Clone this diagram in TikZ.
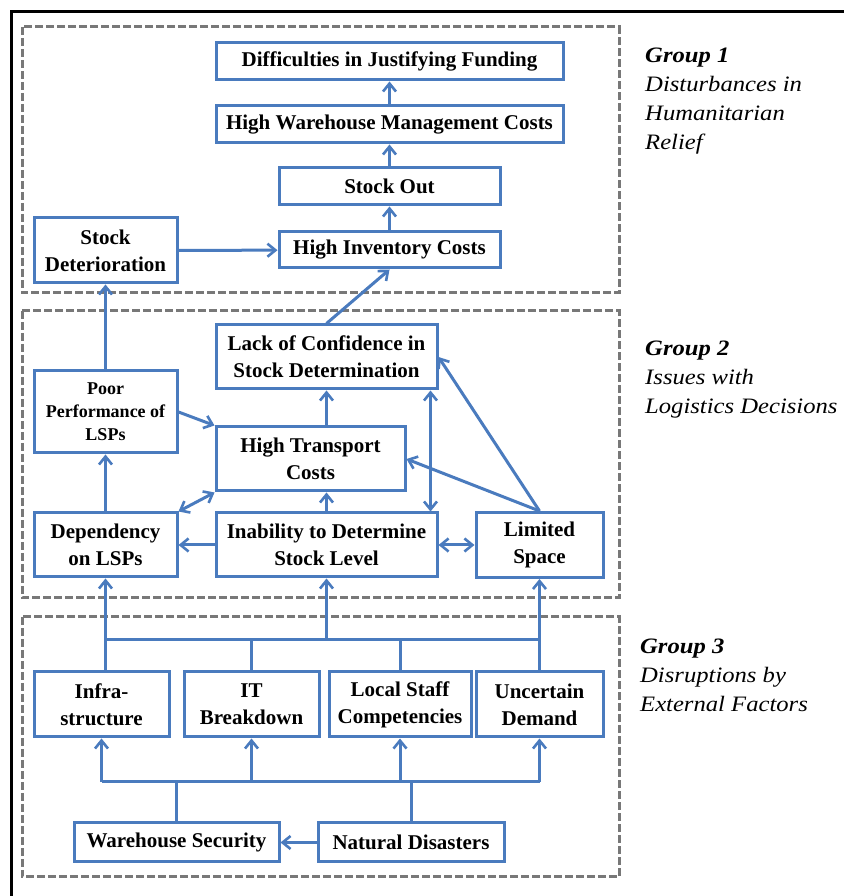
\documentclass[tikz,border=0pt]{standalone}
\usepackage{fontspec}
\setmainfont{Liberation Serif}
\newfontfamily\sidefont[FakeStretch=1.12]{Liberation Serif}
\usepackage{tikz}
\usetikzlibrary{calc,arrows.meta}
\definecolor{boxblue}{RGB}{74,123,190}
\definecolor{framegray}{RGB}{120,120,120}

\begin{document}
\begin{tikzpicture}[x=1pt,y=1pt,
  box/.style={draw=boxblue, line width=3pt, align=center, inner sep=2pt,
    font=\fontsize{21}{27}\selectfont\bfseries},
  link/.style={draw=boxblue, line width=3pt},
  tip/.style={-{Straight Barb[length=8pt,width=13pt,line width=2.6pt]}},
  both/.style={{Straight Barb[length=8pt,width=13pt,line width=2.6pt]}-{Straight Barb[length=8pt,width=13pt,line width=2.6pt]}},
  grp/.style={draw=framegray, line width=3pt, dash pattern=on 8pt off 3pt},
  grouptext/.style={anchor=base west, align=left, inner sep=0pt,
    font=\sidefont\fontsize{22}{29}\selectfont\itshape}]
\useasboundingbox (0,0) rectangle (844,896);
\draw[line width=3pt] (11,0) -- (11,884) -- (844,884);

% groups
\draw[grp] (22,869) rectangle (619,603);
\draw[grp] (22,585) rectangle (619,298);
\draw[grp] (22,279) rectangle (619,19);
\node (g1) at (645,746) [grouptext] {\textbf{Group 1}\\Disturbances in\\Humanitarian\\Relief};
\node (g2) at (645,482) [grouptext] {\textbf{Group 2}\\Issues with\\Logistics Decisions};
\node (g3) at (640,184) [grouptext] {\textbf{Group 3}\\Disruptions by\\External Factors};

% group 1
\node (fund) at (389.5,834.5) [box, minimum width=347, minimum height=37] {Difficulties in Justifying Funding};
\node (whm) at (389.5,771.5) [box, minimum width=347, minimum height=37] {High Warehouse Management Costs};
\node (sout) at (389.5,709.5) [box, minimum width=221, minimum height=37] {Stock Out};
\node (hinv) at (389.5,646) [box, minimum width=221, minimum height=36] {High Inventory Costs};
\node (sdet) at (105.5,645.5) [box, minimum width=143, minimum height=65] {Stock\\Deterioration};

% group 2
\node (lack) at (326.5,539) [box, minimum width=221, minimum height=64] {Lack of Confidence in\\Stock Determination};
\node (poor) at (105.5,484) [box, minimum width=143, minimum height=82,
  font=\fontsize{18}{23}\selectfont\bfseries] {Poor\\Performance of\\LSPs};
\node (htr) at (310.5,437) [box, minimum width=189, minimum height=64] {High Transport\\Costs};
\node (dep) at (105.5,351) [box, minimum width=143, minimum height=64] {Dependency\\on LSPs};
\node (inab) at (326.5,351) [box, minimum width=221, minimum height=64] {Inability to Determine\\Stock Level};
\node (lim) at (539.5,351) [box, minimum width=127, minimum height=65] {Limited\\Space};

% group 3
\node (infra) at (101.5,191.5) [box, minimum width=135, minimum height=65] {Infra-\\structure};
\node (itb) at (251.5,191.5) [box, minimum width=135, minimum height=65] {IT\\Breakdown};
\node (lstaff) at (400,191.5) [box, minimum width=142, minimum height=65] {Local Staff\\Competencies};
\node (udem) at (539.5,191.5) [box, minimum width=127, minimum height=65] {Uncertain\\Demand};
\node (wsec) at (176.5,53.5) [box, minimum width=205, minimum height=39] {Warehouse Security};
\node (ndis) at (411,53.5) [box, minimum width=186, minimum height=39] {Natural Disasters};
\coordinate (ub) at (0,256);
\coordinate (lb) at (0,114);

\draw[link]
(hinv) edge[tip] (sout)
(sout) edge[tip] (whm)
(whm) edge[tip] (fund)
(sdet) edge[tip] (hinv)
(lack.north) edge[tip] (hinv.south)
(poor) edge[tip] (sdet)
(poor.east) edge[tip] (htr.north west)
(lack.south |- htr.north) edge[tip] (lack.south)
(inab.north) edge[tip] (inab.north |- htr.south)
([xshift=-8]lack.south east) edge[both] ([xshift=-8]inab.north east)
(lim.north) edge[tip] (lack.east)
(lim.north) edge[tip] (htr.east)
(dep.north east) edge[both] (htr.south west)
(inab) edge[tip] (dep)
(inab) edge[both] (lim)
(dep) edge[tip] (poor);

\draw[link]
(dep.south |- infra.north) edge[tip] (dep.south)
(udem) edge[tip] (lim)
(inab.south |- ub) edge[tip] (inab.south)
(itb.north) edge (itb.north |- ub)
(lstaff.north) edge (lstaff.north |- ub)
(dep.south |- ub) edge (lim.south |- ub);

\draw[link]
(infra.south |- lb) edge[tip] (infra.south)
(itb.south |- lb) edge[tip] (itb.south)
(lstaff.south |- lb) edge[tip] (lstaff.south)
(udem.south |- lb) edge[tip] (udem.south)
(infra.south |- lb) edge (udem.south |- lb)
(wsec.north) edge (wsec.north |- lb)
(ndis.north) edge (ndis.north |- lb)
(ndis) edge[tip] (wsec);
\end{tikzpicture}
\end{document}
